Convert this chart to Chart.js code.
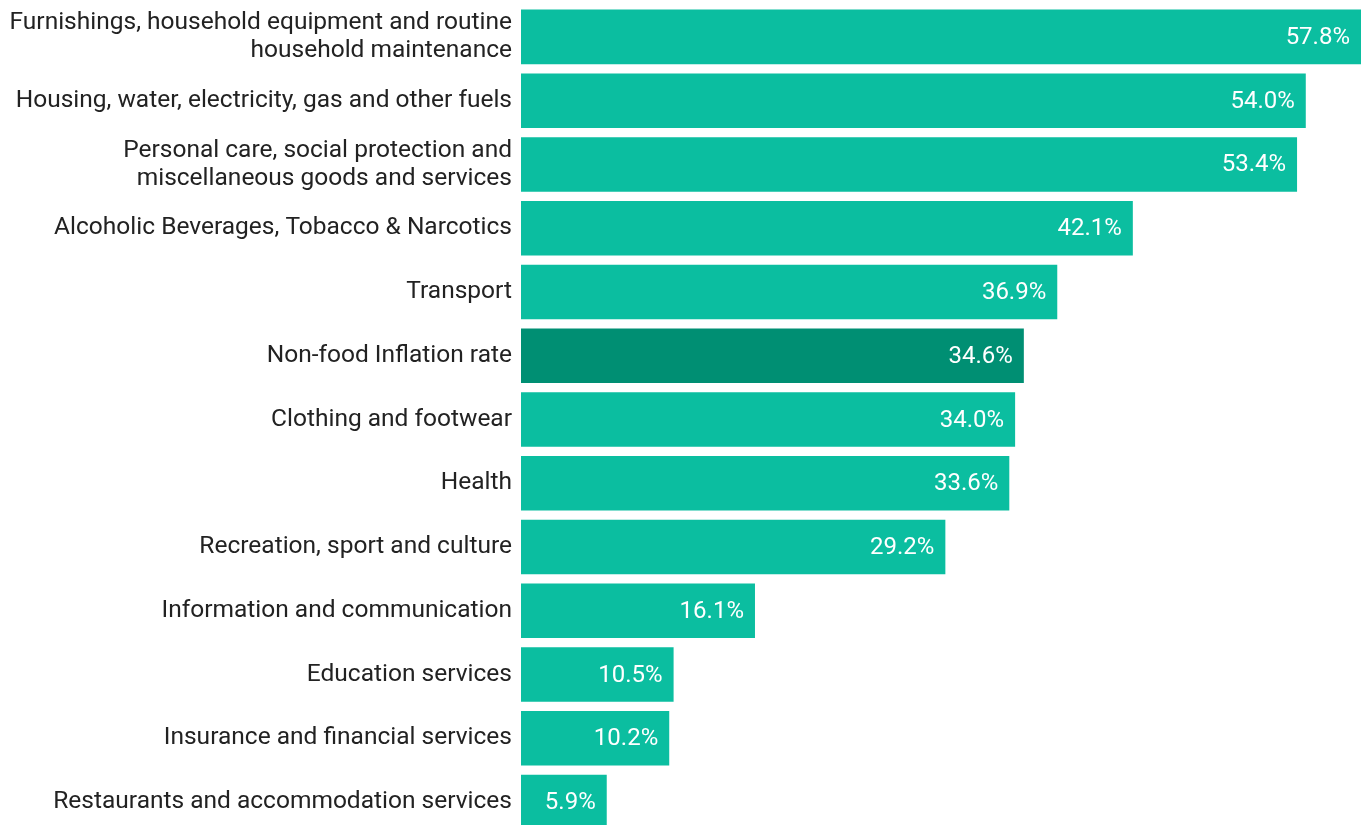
<!DOCTYPE html>
<html>
<head>
<meta charset="utf-8">
<script src="https://cdn.jsdelivr.net/npm/chart.js@4/dist/chart.umd.min.js"></script>
<style>
html,body{margin:0;padding:0;background:#fff;overflow:hidden;}
#wrap{position:relative;width:1366px;height:840px;}
</style>
</head>
<body>
<div id="wrap"><canvas id="c"></canvas></div>
<script>
const categories = [
  ["Furnishings, household equipment and routine", "household maintenance"],
  "Housing, water, electricity, gas and other fuels",
  ["Personal care, social protection and", "miscellaneous goods and services"],
  "Alcoholic Beverages, Tobacco & Narcotics",
  "Transport",
  "Non-food Inflation rate",
  "Clothing and footwear",
  "Health",
  "Recreation, sport and culture",
  "Information and communication",
  "Education services",
  "Insurance and financial services",
  "Restaurants and accommodation services"
];
const values = [57.8, 54.0, 53.4, 42.1, 36.9, 34.6, 34.0, 33.6, 29.2, 16.1, 10.5, 10.2, 5.9];
const highlightCategory = "Non-food Inflation rate";

const baseColor = "#0bbea0";
const highlightColor = "#008f73";
const colors = categories.map(c => c === highlightCategory ? highlightColor : baseColor);

const valueLabels = {
  id: 'valueLabels',
  afterDatasetsDraw(chart) {
    const ctx = chart.ctx;
    const meta = chart.getDatasetMeta(0);
    ctx.save();
    ctx.font = '24px Roboto';
    ctx.fillStyle = '#ffffff';
    ctx.textAlign = 'right';
    ctx.textBaseline = 'middle';
    meta.data.forEach((bar, i) => {
      ctx.fillText(values[i].toFixed(1) + '%', bar.x - 11, bar.y + 1);
    });
    ctx.restore();
  }
};

new Chart(document.getElementById('c'), {
  type: 'bar',
  data: {
    labels: categories,
    datasets: [{
      data: values,
      backgroundColor: colors,
      borderWidth: 0,
      barPercentage: 0.855,
      categoryPercentage: 1.0
    }]
  },
  options: {
    indexAxis: 'y',
    responsive: true,
    maintainAspectRatio: false,
    animation: false,
    layout: { padding: { top: 5, bottom: 6, right: 5, left: 0 } },
    plugins: { legend: { display: false }, tooltip: { enabled: false } },
    scales: {
      x: {
        display: false,
        min: 0,
        max: 57.8
      },
      y: {
        grid: { display: false, drawTicks: false },
        border: { display: false },
        afterFit(axis) { axis.width = 521; axis.paddingTop = 0; axis.paddingBottom = 0; },
        ticks: {
          color: '#222222',
          padding: 9,
          font: { family: 'Roboto', size: 24.5, lineHeight: 1.14 },
          autoSkip: false
        }
      }
    }
  },
  plugins: [valueLabels]
});
</script>
</body>
</html>
